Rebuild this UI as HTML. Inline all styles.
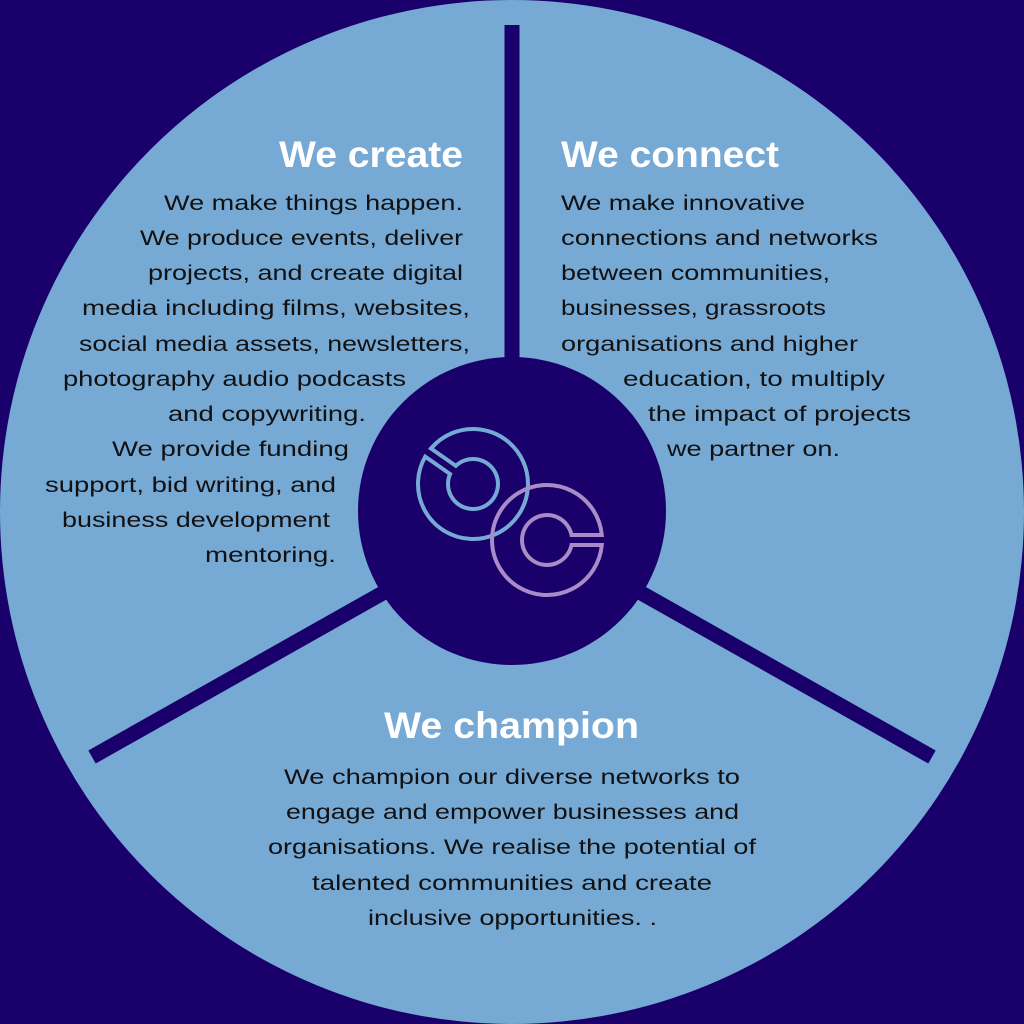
<!DOCTYPE html>
<html><head><meta charset="utf-8"><style>
html,body{margin:0;padding:0;background:#1a006b;}
svg{display:block}
.h{font-family:"Liberation Sans",sans-serif;font-weight:bold;font-size:37px;fill:#fff}
.b{font-family:"Liberation Sans",sans-serif;font-size:21px;fill:#111}
</style></head><body>
<svg width="1024" height="1024" viewBox="0 0 1024 1024" xmlns="http://www.w3.org/2000/svg">
<rect width="1024" height="1024" fill="#1a006b"/>
<circle cx="512" cy="512" r="512" fill="#76a9d4"/>
<line x1="512" y1="25" x2="512" y2="400" stroke="#1a006b" stroke-width="15"/>
<line x1="420" y1="572" x2="92" y2="757" stroke="#1a006b" stroke-width="15"/>
<line x1="604" y1="572" x2="932" y2="757" stroke="#1a006b" stroke-width="15"/>
<circle cx="512" cy="511" r="154" fill="#1a006b"/>
<g fill="none" stroke-width="4" stroke-linejoin="miter">
<path transform="translate(473,484) rotate(215)" stroke="#76a9d4" d="M54.8,5 A55,55 0 1 1 54.8,-5 L24.5,-5 A25,25 0 1 0 24.5,5 Z"/>
<path transform="translate(547,540)" stroke="#a98bc7" d="M54.8,5 A55,55 0 1 1 54.8,-5 L24.5,-5 A25,25 0 1 0 24.5,5 Z"/>
</g>
<text class="h" x="279" y="167" textLength="184" lengthAdjust="spacingAndGlyphs">We create</text>
<text class="h" x="561" y="167" textLength="218" lengthAdjust="spacingAndGlyphs">We connect</text>
<text class="h" x="384" y="738" textLength="255" lengthAdjust="spacingAndGlyphs">We champion</text>
<g class="b">
<text class="b" x="164" y="210" textLength="299" lengthAdjust="spacingAndGlyphs">We make things happen.</text>
<text class="b" x="140" y="245" textLength="323" lengthAdjust="spacingAndGlyphs">We produce events, deliver</text>
<text class="b" x="148" y="280" textLength="315" lengthAdjust="spacingAndGlyphs">projects, and create digital</text>
<text class="b" x="82" y="315" textLength="388" lengthAdjust="spacingAndGlyphs">media including films, websites,</text>
<text class="b" x="79" y="351" textLength="391" lengthAdjust="spacingAndGlyphs">social media assets, newsletters,</text>
<text class="b" x="63" y="386" textLength="343" lengthAdjust="spacingAndGlyphs">photography audio podcasts</text>
<text class="b" x="168" y="421" textLength="198" lengthAdjust="spacingAndGlyphs">and copywriting.</text>
<text class="b" x="112" y="456" textLength="237" lengthAdjust="spacingAndGlyphs">We provide funding</text>
<text class="b" x="45" y="492" textLength="291" lengthAdjust="spacingAndGlyphs">support, bid writing, and</text>
<text class="b" x="62" y="527" textLength="268" lengthAdjust="spacingAndGlyphs">business development</text>
<text class="b" x="205" y="562" textLength="131" lengthAdjust="spacingAndGlyphs">mentoring.</text>

<text class="b" x="561" y="210" textLength="244" lengthAdjust="spacingAndGlyphs">We make innovative</text>
<text class="b" x="561" y="245" textLength="317" lengthAdjust="spacingAndGlyphs">connections and networks</text>
<text class="b" x="561" y="280" textLength="269" lengthAdjust="spacingAndGlyphs">between communities,</text>
<text class="b" x="561" y="315" textLength="265" lengthAdjust="spacingAndGlyphs">businesses, grassroots</text>
<text class="b" x="561" y="351" textLength="297" lengthAdjust="spacingAndGlyphs">organisations and higher</text>
<text class="b" x="623" y="386" textLength="262" lengthAdjust="spacingAndGlyphs">education, to multiply</text>
<text class="b" x="648" y="421" textLength="263" lengthAdjust="spacingAndGlyphs">the impact of projects</text>
<text class="b" x="667" y="456" textLength="173" lengthAdjust="spacingAndGlyphs">we partner on.</text>

<text class="b" x="284" y="784" textLength="456" lengthAdjust="spacingAndGlyphs">We champion our diverse networks to</text>
<text class="b" x="286" y="819" textLength="453" lengthAdjust="spacingAndGlyphs">engage and empower businesses and</text>
<text class="b" x="268" y="854" textLength="488" lengthAdjust="spacingAndGlyphs">organisations. We realise the potential of</text>
<text class="b" x="312" y="890" textLength="400" lengthAdjust="spacingAndGlyphs">talented communities and create</text>
<text class="b" x="368" y="925" textLength="289" lengthAdjust="spacingAndGlyphs">inclusive opportunities. .</text>
</g>
</svg>
</body></html>
